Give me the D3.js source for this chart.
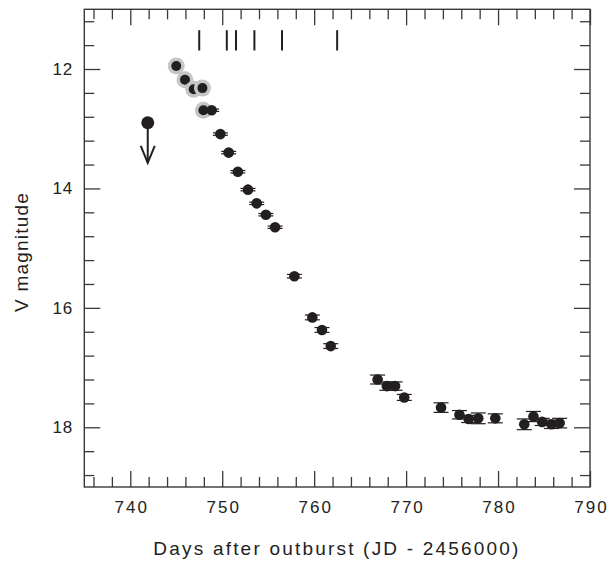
<!DOCTYPE html>
<html>
<head>
<meta charset="utf-8">
<script src="https://cdn.jsdelivr.net/npm/d3@7"></script>
<style>
  body { margin: 0; background: #fff; }
  svg { display: block; font-family: 'Liberation Sans', Arial, sans-serif; }
</style>
</head>
<body>
<div id="chart"></div>
<script>
// early points drawn with a grey halo
var haloDays = [745.0, 745.95, 746.9, 747.85, 747.95];
var haloMags = [11.95, 12.18, 12.34, 12.32, 12.69];

// remaining V photometry
var days = [748.85, 749.8, 750.7, 751.7, 752.8, 753.75, 754.75, 755.75, 757.85,
            759.8, 760.85, 761.8, 766.9, 767.9, 768.8, 769.8, 773.8, 775.8,
            776.8, 777.85, 779.7, 782.85, 783.85, 784.8, 785.8, 786.7];
var mags = [12.69, 13.09, 13.40, 13.72, 14.02, 14.25, 14.44, 14.65, 15.47,
            16.16, 16.37, 16.64, 17.20, 17.31, 17.31, 17.50, 17.67, 17.79,
            17.86, 17.85, 17.85, 17.95, 17.82, 17.91, 17.95, 17.93];
var errs = [0.02, 0.02, 0.02, 0.02, 0.02, 0.02, 0.02, 0.02, 0.03,
            0.04, 0.04, 0.04, 0.075, 0.07, 0.07, 0.05, 0.08, 0.07,
            0.06, 0.09, 0.075, 0.09, 0.085, 0.06, 0.07, 0.08];

// upper limit (arrow)
var limitDay = 741.9;
var limitMag = 12.9;
var limitTo = 13.57;

// epochs marked along the top
var markDays = [747.5, 750.5, 751.5, 753.5, 756.5, 762.5];

var xMajor = [740, 750, 760, 770, 780, 790];
var xMinor = d3.range(736, 790, 2).filter(d => d % 10 !== 0);
var yMajor = [12, 14, 16, 18];
var yMinor = [11.2, 11.6, 12.4, 12.8, 13.2, 13.6, 14.4, 14.8, 15.2, 15.6,
              16.4, 16.8, 17.2, 17.6, 18.4, 18.8];

var W = 614, H = 561;
var L = 84.3, R = 590, T = 9.3, B = 487;
var ink = '#231f20';
var axisCol = '#3a3a3a';

var svg = d3.select('#chart').append('svg')
    .attr('width', W)
    .attr('height', H);

var x = d3.scaleLinear().domain([735, 790]).range([L, R]);
var y = d3.scaleLinear().domain([11, 19]).range([T, B]);

function tickAxis(axis, scale, values, size, tr) {
    var g = svg.append('g')
        .attr('transform', tr)
        .call(axis(scale).tickValues(values).tickSize(size).tickFormat(''));
    g.select('.domain').remove();
    g.selectAll('line').attr('stroke', axisCol).attr('stroke-width', 1.3);
    return g;
}

// ticks pointing inwards on all four sides
tickAxis(d3.axisBottom, x, xMajor, -16, `translate(0,${B})`);
tickAxis(d3.axisBottom, x, xMinor, -10, `translate(0,${B})`);
tickAxis(d3.axisTop, x, xMajor, -16, `translate(0,${T})`);
tickAxis(d3.axisTop, x, xMinor, -10, `translate(0,${T})`);
tickAxis(d3.axisLeft, y, yMajor, -16, `translate(${L},0)`);
tickAxis(d3.axisLeft, y, yMinor, -10, `translate(${L},0)`);
tickAxis(d3.axisRight, y, yMajor, -16, `translate(${R},0)`);
tickAxis(d3.axisRight, y, yMinor, -10, `translate(${R},0)`);

// tick labels
var xl = svg.append('g')
    .attr('transform', `translate(0,${B})`)
    .call(d3.axisBottom(x).tickValues(xMajor).tickSize(0).tickPadding(14));
xl.select('.domain').remove();
xl.selectAll('text')
    .style('font-size', '17px')
    .style('letter-spacing', '2px')
    .attr('dx', '1px')
    .attr('fill', '#222')
    .attr('font-family', null);

var yl = svg.append('g')
    .attr('transform', `translate(${L},0)`)
    .call(d3.axisLeft(y).tickValues(yMajor).tickSize(0).tickPadding(11));
yl.select('.domain').remove();
yl.selectAll('text')
    .style('font-size', '17px')
    .style('letter-spacing', '1px')
    .attr('fill', '#222')
    .attr('font-family', null);

// frame
svg.append('rect')
    .attr('x', L).attr('y', T)
    .attr('width', R - L).attr('height', B - T)
    .attr('fill', 'none')
    .attr('stroke', axisCol)
    .attr('stroke-width', 1.4);

// axis titles
svg.append('text')
    .attr('x', 337)
    .attr('y', 555)
    .attr('text-anchor', 'middle')
    .style('font-size', '19px')
    .style('letter-spacing', '2.2px')
    .attr('fill', '#222')
    .text('Days after outburst (JD - 2456000)');

svg.append('text')
    .attr('transform', 'translate(28,252) rotate(-90)')
    .attr('text-anchor', 'middle')
    .style('font-size', '19px')
    .style('letter-spacing', '1.2px')
    .attr('fill', '#222')
    .text('V magnitude');

// epoch marks along the top
svg.selectAll('.mark')
    .data(markDays)
    .enter()
    .append('line')
    .attr('class', 'mark')
    .attr('x1', d => x(d)).attr('x2', d => x(d))
    .attr('y1', y(11.35)).attr('y2', y(11.69))
    .attr('stroke', ink)
    .attr('stroke-width', 2);

// upper limit with arrow
svg.append('line')
    .attr('x1', x(limitDay)).attr('x2', x(limitDay))
    .attr('y1', y(limitMag)).attr('y2', y(limitTo))
    .attr('stroke', ink)
    .attr('stroke-width', 2);
svg.append('path')
    .attr('d', d3.line()([[x(limitDay) - 7, y(limitTo) - 17],
                          [x(limitDay), y(limitTo)],
                          [x(limitDay) + 7, y(limitTo) - 17]]))
    .attr('fill', 'none')
    .attr('stroke', ink)
    .attr('stroke-width', 2);
svg.append('circle')
    .attr('cx', x(limitDay))
    .attr('cy', y(limitMag))
    .attr('r', 6.5)
    .attr('fill', ink);

// haloed points, each halo drawn just before its dot
var haloData = haloDays.map((d, i) => ({day: d, mag: haloMags[i]}));
var hg = svg.selectAll('.halo')
    .data(haloData)
    .enter()
    .append('g')
    .attr('class', 'halo');
hg.append('circle')
    .attr('cx', d => x(d.day))
    .attr('cy', d => y(d.mag))
    .attr('r', 8.5)
    .attr('fill', '#c6c6c6');
hg.append('circle')
    .attr('cx', d => x(d.day))
    .attr('cy', d => y(d.mag))
    .attr('r', 5)
    .attr('fill', ink);

// error bars and dots
var pts = days.map((d, i) => ({day: d, mag: mags[i], err: errs[i]}));
var eg = svg.selectAll('.pt')
    .data(pts)
    .enter()
    .append('g')
    .attr('class', 'pt');
eg.append('line')
    .attr('x1', d => x(d.day)).attr('x2', d => x(d.day))
    .attr('y1', d => y(d.mag - d.err)).attr('y2', d => y(d.mag + d.err))
    .attr('stroke', ink).attr('stroke-width', 1.2);
eg.append('line')
    .attr('x1', d => x(d.day) - 7.5).attr('x2', d => x(d.day) + 7.5)
    .attr('y1', d => y(d.mag - d.err)).attr('y2', d => y(d.mag - d.err))
    .attr('stroke', ink).attr('stroke-width', 1.2);
eg.append('line')
    .attr('x1', d => x(d.day) - 7.5).attr('x2', d => x(d.day) + 7.5)
    .attr('y1', d => y(d.mag + d.err)).attr('y2', d => y(d.mag + d.err))
    .attr('stroke', ink).attr('stroke-width', 1.2);
eg.append('circle')
    .attr('cx', d => x(d.day))
    .attr('cy', d => y(d.mag))
    .attr('r', 5.3)
    .attr('fill', ink);
</script>
</body>
</html>
